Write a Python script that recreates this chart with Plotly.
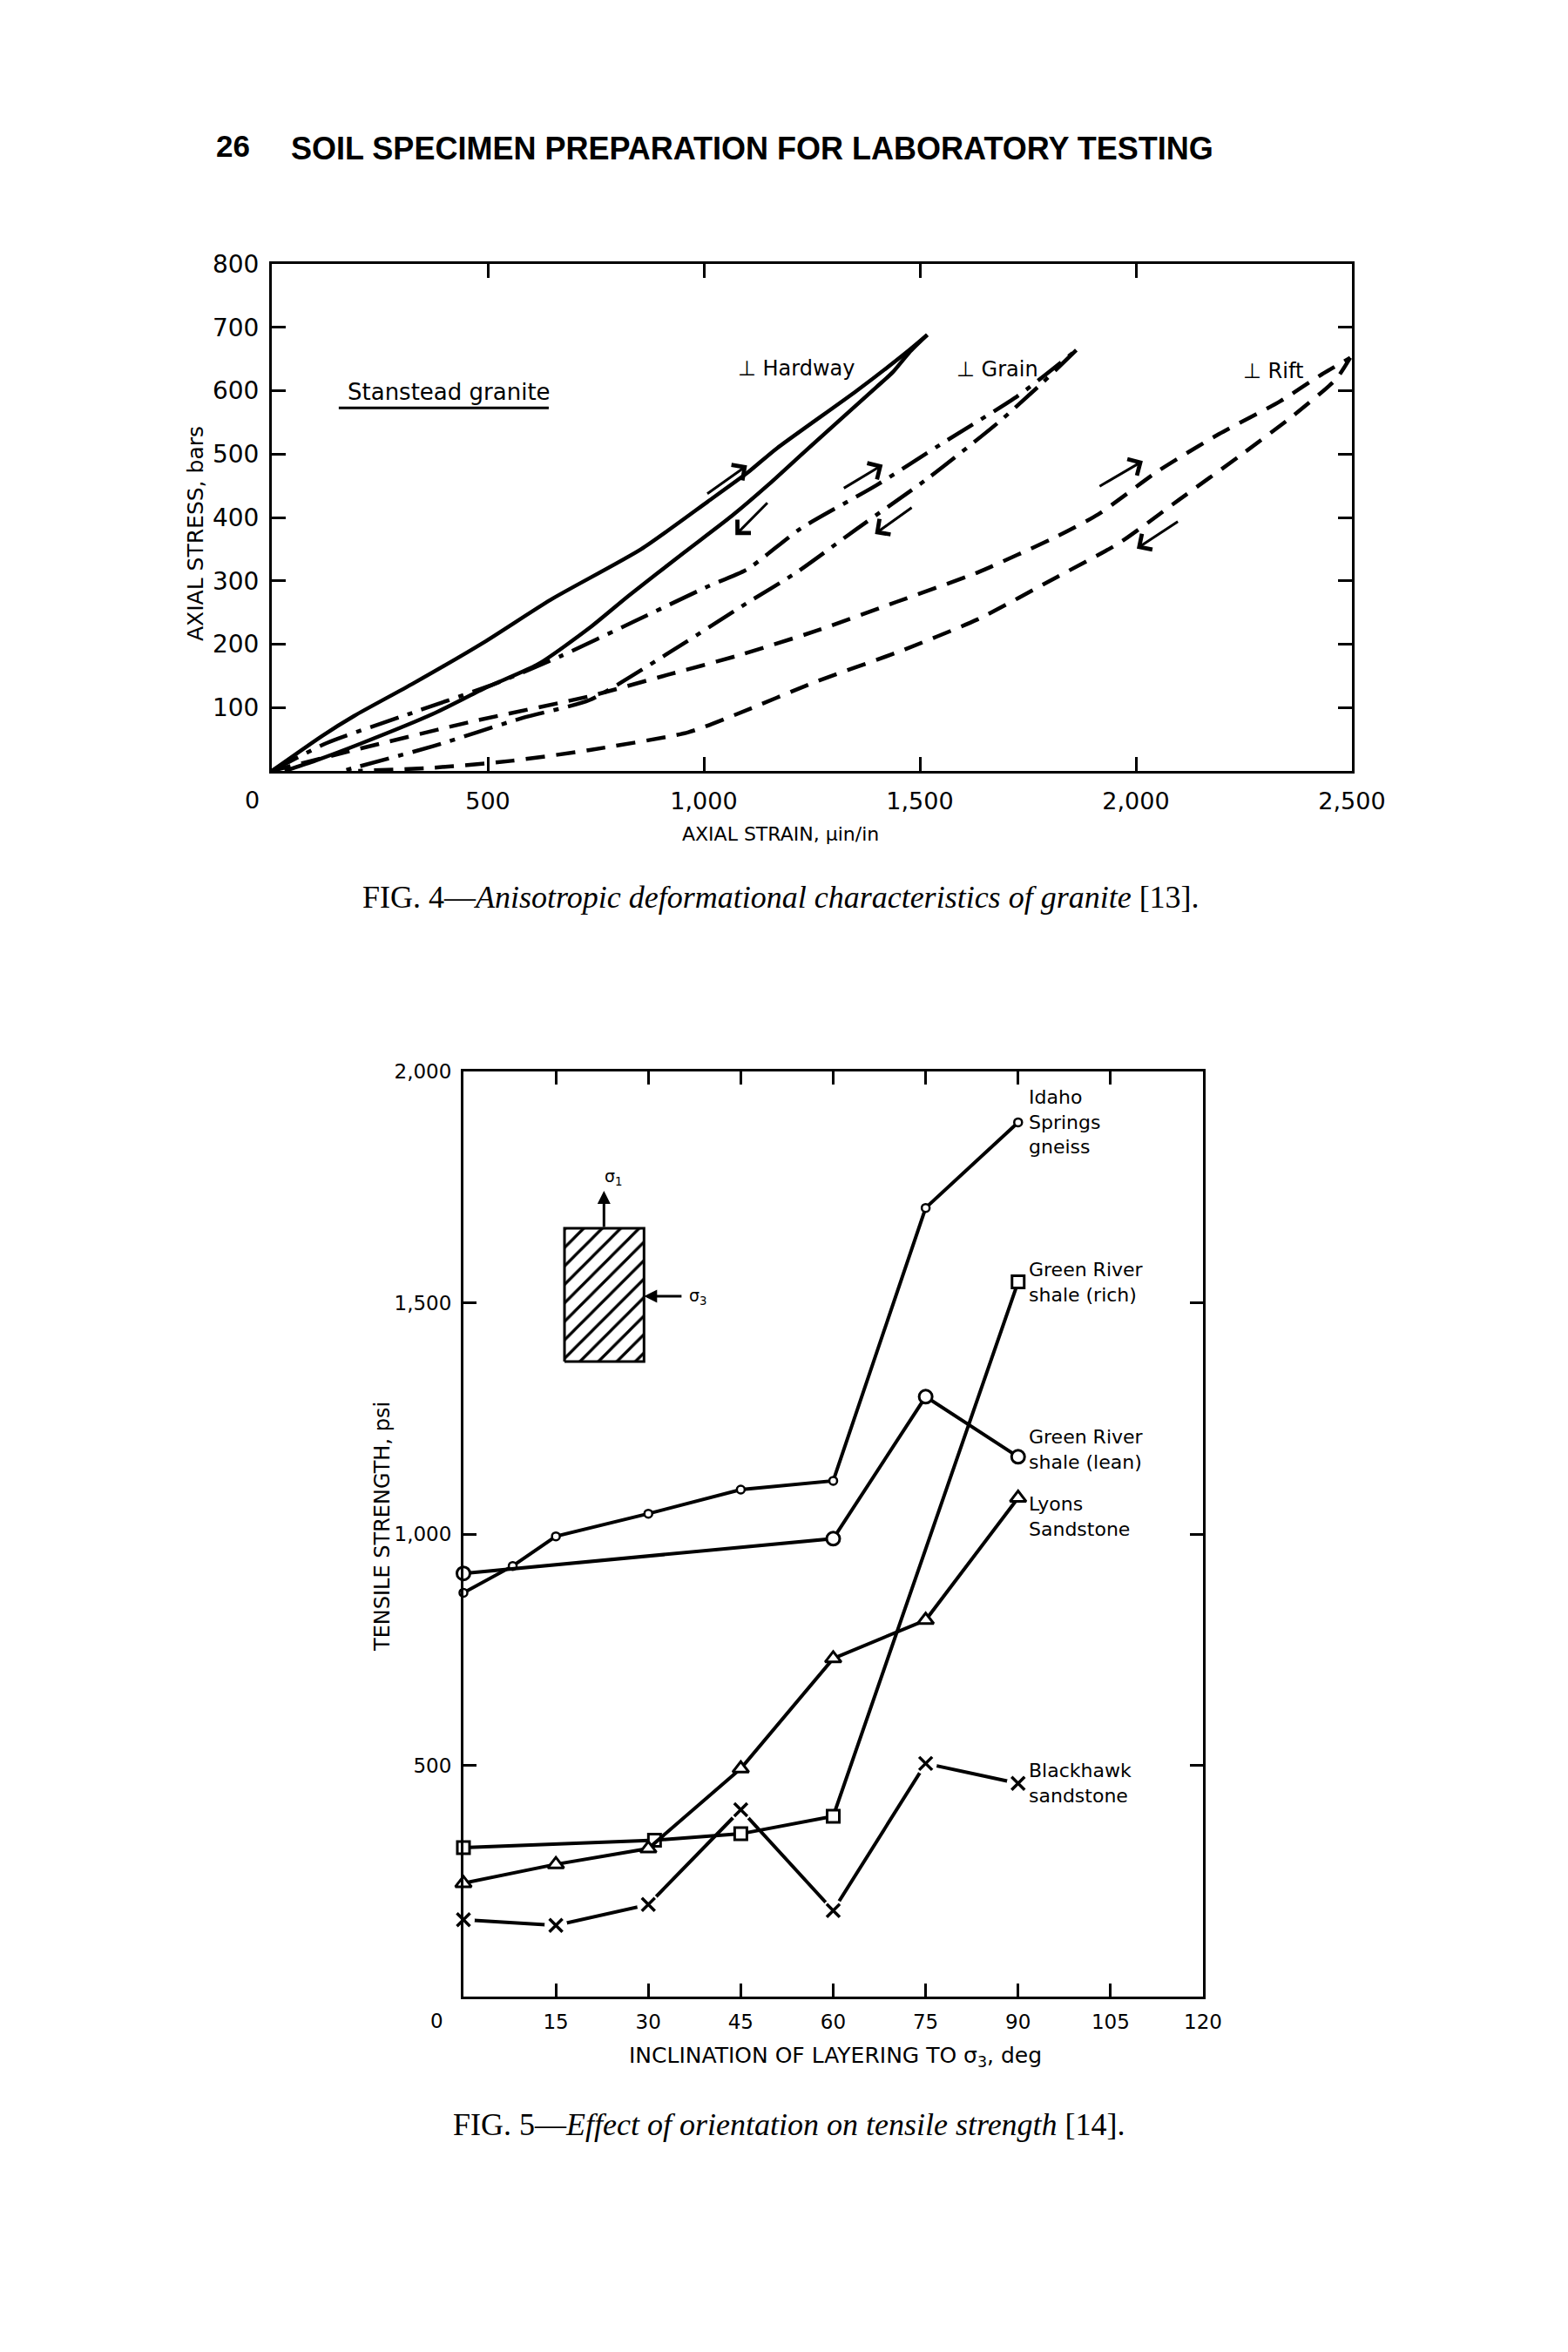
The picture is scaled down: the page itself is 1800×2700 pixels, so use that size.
import plotly.graph_objects as go

W, H = 1800, 2700
FONT = "DejaVu Sans"
SERIF = "Liberation Serif"
HEAD = "Liberation Sans Narrow, Arial Narrow, Liberation Sans"

# ---------------- FIG. 4 data (Stanstead granite) ----------------
hardway_load_strain = [0, 118, 191, 327, 491, 645, 855, 1009, 1100, 1167, 1354, 1475, 1517]
hardway_load_stress = [0, 56, 87, 138, 203, 270, 350, 425, 470, 508, 600, 664, 688]
hardway_unload_strain = [1517, 1475, 1437, 1400, 1232, 1150, 1064, 955, 827, 736, 618, 491, 373, 209, 100, 30]
hardway_unload_stress = [688, 660, 629, 606, 503, 452, 402, 345, 277, 226, 169, 130, 90, 44, 16, 0]

grain_load_strain = [0, 127, 318, 518, 668, 836, 1009, 1100, 1223, 1400, 1559, 1727, 1862]
grain_load_stress = [0, 44, 90, 138, 181, 235, 291, 318, 382, 451, 520, 592, 664]
grain_unload_strain = [1862, 1783, 1680, 1521, 1354, 1214, 1100, 918, 736, 582, 373, 191, 164]
grain_unload_stress = [664, 612, 549, 463, 382, 313, 265, 186, 112, 84, 39, 5, 0]

rift_load_strain = [0, 191, 464, 736, 918, 1074, 1260, 1447, 1633, 1820, 1913, 2053, 2193, 2333, 2426, 2496]
rift_load_stress = [0, 33, 78, 118, 152, 181, 221, 267, 313, 371, 405, 474, 532, 583, 624, 652]
rift_unload_strain = [2496, 2463, 2361, 2240, 2100, 1960, 1820, 1633, 1447, 1260, 1074, 964, 736, 555, 373, 200]
rift_unload_stress = [652, 618, 559, 497, 428, 359, 307, 239, 187, 141, 89, 61, 33, 16, 5, 0]

arrow_tail_strain = [1005, 1150, 1321, 1484, 1913, 2100]
arrow_tail_stress = [436, 425, 445, 417, 448, 395]
arrow_head_strain = [1100, 1073, 1414, 1396, 2016, 2002]
arrow_head_stress = [482, 372, 483, 374, 489, 351]

curve_labels = ["\u22a5 Hardway", "\u22a5 Grain", "\u22a5 Rift"]
curve_label_strain = [1215, 1680, 2318]
curve_label_stress = [635, 634, 631]

strain_ticks = [500, 1000, 1500, 2000, 2500]
strain_ticktext = ["500", "1,000", "1,500", "2,000", "2,500"]
stress_ticks = [100, 200, 300, 400, 500, 600, 700, 800]
stress_ticktext = ["100", "200", "300", "400", "500", "600", "700", "800"]

# ---------------- FIG. 5 data (tensile strength) ----------------
idaho_incl = [0, 8, 15, 30, 45, 60, 75, 90]
idaho_psi = [873, 931, 995, 1044, 1096, 1115, 1705, 1890]
lean_incl = [0, 60, 75, 90]
lean_psi = [915, 990, 1297, 1167]
rich_incl = [0, 31, 45, 60, 90]
rich_psi = [322, 338, 352, 390, 1545]
lyons_incl = [0, 15, 30, 45, 60, 75, 90]
lyons_psi = [245, 286, 320, 493, 731, 814, 1078]
blackhawk_incl = [0, 15, 30, 45, 60, 75, 90]
blackhawk_psi = [166, 154, 199, 404, 186, 504, 461]

series_labels = ["Idaho<br>Springs<br>gneiss", "Green River<br>shale (rich)",
                 "Green River<br>shale (lean)", "Lyons<br>Sandstone",
                 "Blackhawk<br>sandstone"]

incl_ticks = [15, 30, 45, 60, 75, 90, 105, 120]
incl_ticktext = ["15", "30", "45", "60", "75", "90", "105", "120"]
psi_ticks = [500, 1000, 1500, 2000]
psi_ticktext = ["500", "1,000", "1,500", "2,000"]


def px(x):
    return x / W


def py(y):
    return 1 - y / H


fig = go.Figure()


def add_curve(x, y, dash, xa="x", ya="y"):
    fig.add_trace(go.Scatter(
        x=x, y=y, mode="lines", xaxis=xa, yaxis=ya, showlegend=False,
        hoverinfo="skip",
        line=dict(color="black", width=4.5, dash=dash, shape="spline", smoothing=0.6)))


DASHDOT = "34px,11px,6px,11px"
DASHED = "22px,13px"
add_curve(hardway_load_strain, hardway_load_stress, "solid")
add_curve(hardway_unload_strain, hardway_unload_stress, "solid")
add_curve(grain_load_strain, grain_load_stress, DASHDOT)
add_curve(grain_unload_strain, grain_unload_stress, DASHDOT)
add_curve(rift_load_strain, rift_load_stress, DASHED)
add_curve(rift_unload_strain, rift_unload_stress, DASHED)


# ---- Fig 5 traces ----
def add_series(x, y, symbol, size, lw=3):
    fig.add_trace(go.Scatter(
        x=x, y=y, mode="lines+markers", xaxis="x2", yaxis="y2", showlegend=False,
        hoverinfo="skip", cliponaxis=False,
        line=dict(color="black", width=4),
        marker=dict(symbol=symbol, size=size, color="white",
                    line=dict(color="black", width=lw))))


add_series(idaho_incl, idaho_psi, "circle", 9, 2.5)
add_series(lean_incl, lean_psi, "circle", 15)
add_series(rich_incl, rich_psi, "square", 14)
add_series(lyons_incl, lyons_psi, "triangle-up", 16)
# Blackhawk: line broken around the markers, then x markers
fig.add_trace(go.Scatter(
    x=blackhawk_incl, y=blackhawk_psi, mode="lines+markers", xaxis="x2", yaxis="y2",
    showlegend=False, hoverinfo="skip", cliponaxis=False,
    line=dict(color="black", width=4),
    marker=dict(symbol="circle", size=26, color="white", line=dict(width=0))))
fig.add_trace(go.Scatter(
    x=blackhawk_incl, y=blackhawk_psi, mode="markers", xaxis="x2", yaxis="y2",
    showlegend=False, hoverinfo="skip", cliponaxis=False,
    marker=dict(symbol="x-thin", size=15, color="black",
                line=dict(color="black", width=3.5))))

# ---- inset diagram (hatched specimen) ----
INSET_X0, INSET_X1 = 16.4, 29.3
INSET_Y0, INSET_Y1 = 1373, 1661
fig.add_trace(go.Scatter(
    x=[INSET_X0, INSET_X1, INSET_X1, INSET_X0, INSET_X0],
    y=[INSET_Y0, INSET_Y0, INSET_Y1, INSET_Y1, INSET_Y0],
    mode="lines", fill="toself", fillcolor="white", xaxis="x2", yaxis="y2",
    showlegend=False, hoverinfo="skip",
    fillpattern=dict(shape="/", size=15, solidity=0.22, fgcolor="black",
                     fgopacity=1, bgcolor="white"),
    line=dict(color="black", width=3)))

annotations = []


def paper_text(x, y, text, size, family=FONT, xanchor="center", angle=0):
    annotations.append(dict(x=px(x), y=py(y), xref="paper", yref="paper", text=text,
                            showarrow=False, xanchor=xanchor, yanchor="middle",
                            textangle=angle, font=dict(family=family, size=size, color="black")))


# arrows in Fig 4
for tx, ty, hx, hy in zip(arrow_tail_strain, arrow_tail_stress, arrow_head_strain, arrow_head_stress):
    annotations.append(dict(x=hx, y=hy, ax=tx, ay=ty, xref="x", yref="y", axref="x", ayref="y",
                            text="", showarrow=True, arrowhead=4, arrowsize=1.4,
                            arrowwidth=3, arrowcolor="black"))

for t, x, y in zip(curve_labels, curve_label_strain, curve_label_stress):
    annotations.append(dict(x=x, y=y, xref="x", yref="y", text=t, showarrow=False,
                            xanchor="center", yanchor="middle",
                            font=dict(family=FONT, size=24, color="black")))

annotations.append(dict(x=411, y=598, xref="x", yref="y", text="Stanstead granite",
                        showarrow=False, xanchor="center", yanchor="middle",
                        font=dict(family=FONT, size=26, color="black")))

# origin labels
paper_text(289, 918, "0", 27)
paper_text(501, 2320, "0", 23)

# axis titles
paper_text(224, 613, "AXIAL STRESS, bars", 25, angle=-90)
paper_text(896, 957, "AXIAL STRAIN, \u03bcin/in", 22)
paper_text(439, 1753, "TENSILE STRENGTH, psi", 24, angle=-90)
paper_text(959, 2361, "INCLINATION OF LAYERING TO \u03c3<sub>3</sub>, deg", 25)

# series labels in Fig 5
label_x = [90, 90, 90, 90, 90]
label_y = [idaho_psi[-1], rich_psi[-1], lean_psi[-1] + 15, lyons_psi[-1] - 40, blackhawk_psi[-1]]
for t, x, y in zip(series_labels, label_x, label_y):
    annotations.append(dict(x=x, y=y, xref="x2", yref="y2", text=t, showarrow=False,
                            xanchor="left", yanchor="middle", xshift=10, align="left",
                            font=dict(family=FONT, size=22, color="black")))

# inset arrows and sigma labels
annotations.append(dict(x=22.8, y=1742, ax=22.8, ay=INSET_Y1, xref="x2", yref="y2",
                        axref="x2", ayref="y2", text="", showarrow=True, arrowhead=2,
                        arrowsize=1, arrowwidth=3, arrowcolor="black"))
annotations.append(dict(x=INSET_X1, y=1514, ax=35.6, ay=1514, xref="x2", yref="y2",
                        axref="x2", ayref="y2", text="", showarrow=True, arrowhead=2,
                        arrowsize=1, arrowwidth=3, arrowcolor="black"))
annotations.append(dict(x=22.6, y=1772, xref="x2", yref="y2", text="\u03c3<sub>1</sub>",
                        showarrow=False, xanchor="left", yanchor="middle",
                        font=dict(family=FONT, size=19, color="black")))
annotations.append(dict(x=36.3, y=1514, xref="x2", yref="y2", text="\u03c3<sub>3</sub>",
                        showarrow=False, xanchor="left", yanchor="middle",
                        font=dict(family=FONT, size=19, color="black")))

# header and captions
paper_text(246, 168, "<b>26</b>", 35, family=HEAD, xanchor="left")
paper_text(332, 170, "<b>SOIL SPECIMEN PREPARATION FOR LABORATORY TESTING</b>", 36,
           family=HEAD, xanchor="left")
paper_text(896, 1030,
           "FIG. 4\u2014<i>Anisotropic deformational characteristics of granite</i> [13].",
           36, family=SERIF)
paper_text(906, 2439,
           "FIG. 5\u2014<i>Effect of orientation on tensile strength</i> [14].",
           36, family=SERIF)

shapes = [dict(type="line", xref="x", yref="y", x0=155, x1=641, y0=573, y1=573,
               line=dict(color="black", width=3))]

axis_common = dict(showline=True, linecolor="black", linewidth=3, mirror="ticks",
                   ticks="inside", tickcolor="black", tickwidth=3, showgrid=False,
                   zeroline=False, fixedrange=True, automargin=False)

fig.update_layout(
    width=W, height=H, autosize=False,
    margin=dict(l=0, r=0, t=0, b=0, pad=0, autoexpand=False),
    paper_bgcolor="white", plot_bgcolor="white",
    showlegend=False,
    xaxis=dict(domain=[px(312), px(1552)], range=[0, 2500], anchor="y",
               tickvals=strain_ticks, ticktext=strain_ticktext, ticklen=16,
               ticklabelstandoff=9, tickfont=dict(family=FONT, size=27, color="black"),
               **axis_common),
    yaxis=dict(domain=[py(885), py(303)], range=[0, 800], anchor="x",
               tickvals=stress_ticks, ticktext=stress_ticktext, ticklen=16,
               ticklabelstandoff=6, tickfont=dict(family=FONT, size=28, color="black"),
               **axis_common),
    xaxis2=dict(domain=[px(532), px(1381)], range=[0, 120], anchor="y2",
                tickvals=incl_ticks, ticktext=incl_ticktext, ticklen=15,
                ticklabelstandoff=6, tickfont=dict(family=FONT, size=23, color="black"),
                **axis_common),
    yaxis2=dict(domain=[py(2292), py(1230)], range=[0, 2000], anchor="x2",
                tickvals=psi_ticks, ticktext=psi_ticktext, ticklen=15,
                ticklabelstandoff=6, tickfont=dict(family=FONT, size=23, color="black"),
                **axis_common),
    annotations=annotations,
    shapes=shapes,
)

fig.write_html(
    "out.html",
    config={"displayModeBar": False},
    post_script="document.body.style.margin='0';document.body.style.overflow='hidden';"
                "document.documentElement.style.overflow='hidden';",
)
